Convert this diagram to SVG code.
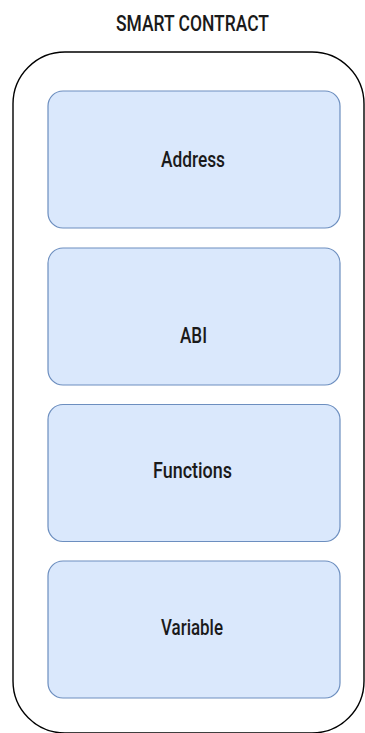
<svg xmlns="http://www.w3.org/2000/svg" width="365" height="733" viewBox="0 0 365 733">
  <style>
    .label { font-family: Roboto, "Liberation Sans", Arial, sans-serif; font-weight: 500; font-size: 22px; fill: #1a1a1a; text-anchor: middle; }
    .field { fill: #dae8fc; stroke: #6c8ebf; stroke-width: 1.2; }
    .container { fill: #ffffff; stroke: #000000; stroke-width: 1.4; }
  </style>
  <rect width="365" height="733" fill="#ffffff"/>

  <g id="smart-contract">
    <text class="label" x="192.5" y="31" textLength="153" lengthAdjust="spacingAndGlyphs">SMART CONTRACT</text>
    <rect class="container" x="13" y="52" width="351" height="681" rx="52" ry="52"/>
  </g>

  <g id="address">
    <rect class="field" x="48" y="91" width="292" height="137" rx="15" ry="15"/>
    <text class="label" x="193" y="166.5" textLength="64" lengthAdjust="spacingAndGlyphs">Address</text>
  </g>

  <g id="abi">
    <rect class="field" x="48" y="248" width="292" height="137" rx="15" ry="15"/>
    <text class="label" x="193.5" y="343" textLength="27" lengthAdjust="spacingAndGlyphs">ABI</text>
  </g>

  <g id="functions">
    <rect class="field" x="48" y="404.5" width="292" height="137" rx="15" ry="15"/>
    <text class="label" x="192.5" y="478" textLength="79" lengthAdjust="spacingAndGlyphs">Functions</text>
  </g>

  <g id="variable">
    <rect class="field" x="48" y="561" width="292" height="137" rx="15" ry="15"/>
    <text class="label" x="192" y="635" textLength="62" lengthAdjust="spacingAndGlyphs">Variable</text>
  </g>

  <g id="connectors"/>
</svg>
